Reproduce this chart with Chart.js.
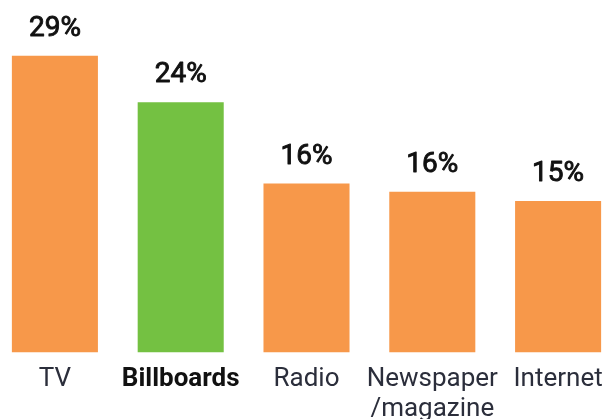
<!DOCTYPE html>
<html>
<head>
<meta charset="utf-8">
<script src="https://cdn.jsdelivr.net/npm/chart.js@4"></script>
<style>
  html, body { margin: 0; padding: 0; background: #fff; overflow: hidden; }
  #wrap { position: absolute; left: -8px; top: 0; width: 629px; height: 419px; }
</style>
</head>
<body>
<div id="wrap"><canvas id="c" width="629" height="419"></canvas></div>
<script>
// Share of respondents by advertising channel
const categories = ['TV', 'Billboards', 'Radio', ['Newspaper', '/magazine'], 'Internet'];
const shares = [28.8, 24.3, 16.4, 15.6, 14.7];
const highlightIndex = 1;

const ORANGE = '#F7984A';
const GREEN = '#74C142';

// Percentage labels above each bar, in a medium-weight look
const valueLabels = {
  id: 'valueLabels',
  afterDatasetsDraw(chart) {
    const ctx = chart.ctx;
    const meta = chart.getDatasetMeta(0);
    ctx.save();
    ctx.font = '28px Roboto';
    ctx.fillStyle = '#111';
    ctx.strokeStyle = '#111';
    ctx.lineWidth = 0.9;
    ctx.lineJoin = 'round';
    ctx.textAlign = 'center';
    ctx.textBaseline = 'alphabetic';
    meta.data.forEach((bar, i) => {
      const txt = Math.round(shares[i]) + '%';
      ctx.fillText(txt, bar.x, bar.y - 20);
      ctx.strokeText(txt, bar.x, bar.y - 20);
    });
    ctx.restore();
  }
};

new Chart(document.getElementById('c'), {
  type: 'bar',
  data: {
    labels: categories,
    datasets: [{
      data: shares,
      backgroundColor: shares.map((_, i) => i === highlightIndex ? GREEN : ORANGE),
      borderWidth: 0,
      barPercentage: 0.684,
      categoryPercentage: 1
    }]
  },
  options: {
    responsive: false,
    animation: false,
    layout: { padding: { top: 43.5, left: 0, right: 0, bottom: 0 } },
    plugins: { legend: { display: false }, tooltip: { enabled: false } },
    scales: {
      y: { display: false, min: 0, max: 30 },
      x: {
        grid: { display: false },
        border: { display: false },
        afterFit(scale) { scale.height = 66.5; },
        ticks: {
          padding: 4,
          maxRotation: 0,
          minRotation: 0,
          autoSkip: false,
          font: (c) => ({ family: 'Roboto', size: 26, weight: c.index === highlightIndex ? 'bold' : 'normal', lineHeight: 1.15 }),
          color: (c) => c.index === highlightIndex ? '#111111' : '#2B2E3B'
        }
      }
    }
  },
  plugins: [valueLabels]
});
</script>
</body>
</html>
